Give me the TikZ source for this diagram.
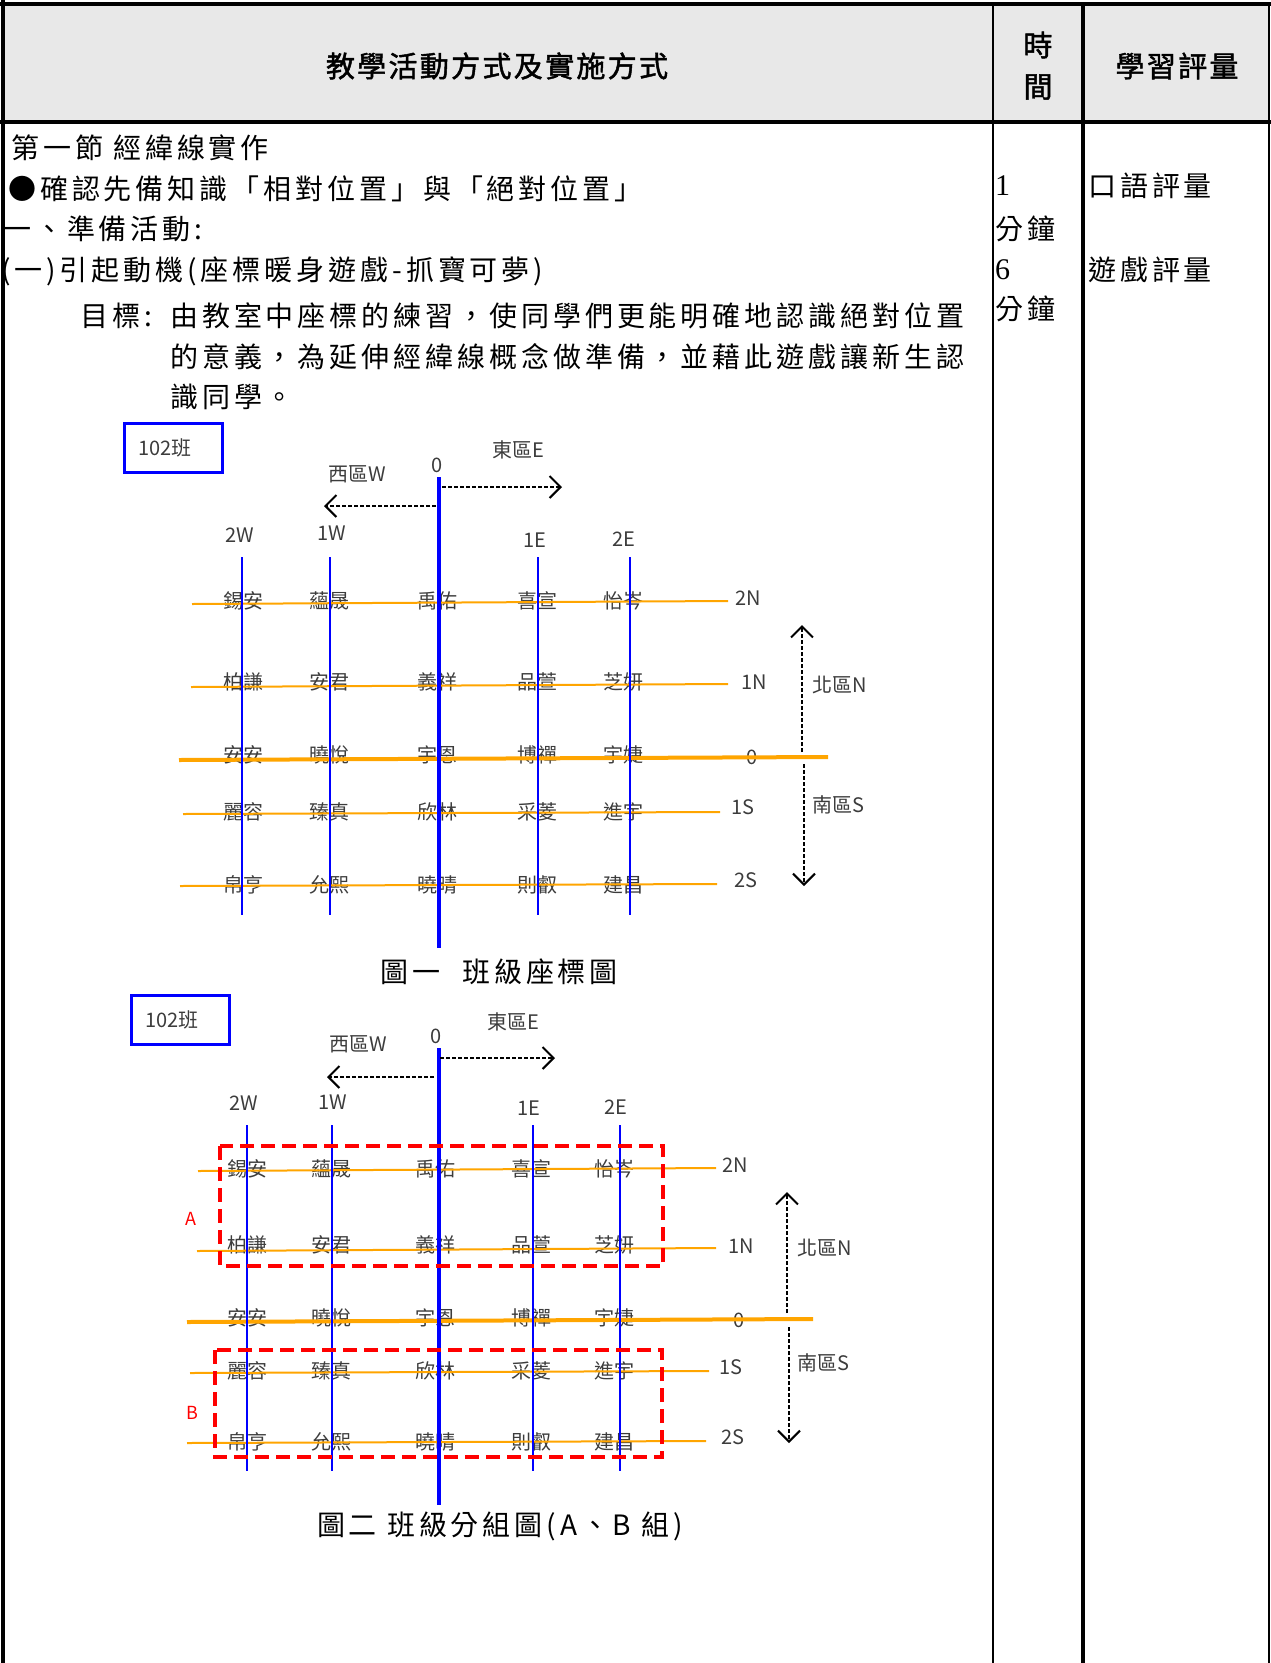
\documentclass[tikz,border=0pt]{standalone}
\usepackage{xcolor}
\usepackage{fontspec}
\setmainfont{Noto Sans CJK TC}
\newfontfamily\cjk[LetterSpace=14]{Noto Sans CJK TC}
\newfontfamily\cjkhead[FakeBold=1.6,LetterSpace=8]{Noto Sans CJK TC}
\newfontfamily\seatfont{Noto Sans CJK TC}
\newfontfamily\numfont{Liberation Serif}
\usepackage{tikz}
\usetikzlibrary{arrows.meta,positioning}
\definecolor{seatblue}{RGB}{0,0,255}
\definecolor{seatorange}{RGB}{255,165,0}
\definecolor{grouped}{RGB}{255,0,0}
\definecolor{headgray}{RGB}{232,232,232}
\definecolor{seattext}{RGB}{60,60,60}
\tikzset{
  every picture/.style = {
    x = 1pt,
    y = -1pt,
  }
  ,
  body-text/.style = {
    anchor = west,
    inner sep = 0pt,
    font = \cjk\fontsize{28}{34}\selectfont
  }
  ,
  head-text/.style = {
    inner sep = 0pt,
    font = \cjkhead\fontsize{29}{34}\selectfont
  }
  ,
  num-text/.style = {
    anchor = west,
    inner sep = 0pt,
    font = \numfont\fontsize{30}{34}\selectfont
  }
  , % seats and labels of the grid
  seat/.style = {
    inner sep = 0pt,
    text = seattext,
    font = \seatfont\fontsize{20}{24}\selectfont
  }
  ,
  group-label/.style = {
    inner sep = 0pt,
    text = grouped,
    font = \seatfont\fontsize{18}{22}\selectfont
  }
  ,
  class-box/.style = {
    draw = seatblue,
    line width = 3pt,
    inner xsep = 14pt,
    text width = 70pt,
    align = left,
    minimum height = 49pt,
    text = seattext,
    font = \seatfont\fontsize{20}{24}\selectfont
  }
  , % lines of the grid
  col-line/.style = {draw = seatblue, line width = 2.2pt}
  ,
  main-line/.style = {draw = seatblue, line width = 4.5pt}
  ,
  row-line/.style = {draw = seatorange, line width = 2pt}
  ,
  zero-line/.style = {draw = seatorange, line width = 4pt}
  ,
  zone-arrow/.style = {
    -{Straight Barb[length=11pt, width=22pt, line width=2pt]},
    draw = black,
    line width = 1.5pt,
    dash pattern = on 4pt off 2pt
  }
  ,
  group-box/.style = {
    draw = grouped,
    line width = 4pt,
    dash pattern = on 14pt off 7pt
  }
  , % table rules
  rule-thin/.style = {draw = black, line width = 2.5pt}
  ,
  rule-thick/.style = {draw = black, line width = 4.5pt}
}

\begin{document}
\begin{tikzpicture}
  \useasboundingbox (0,0) rectangle (1271,1663);

  % table
  \fill[headgray] (4,6) rectangle (1268,121);
  \coordinate (tl) at (0,4);     \coordinate (tr) at (1271,4);
  \coordinate (hl) at (0,122);   \coordinate (hr) at (1271,122);
  \coordinate (lt) at (3,0);     \coordinate (lb) at (3,1663);
  \coordinate (d1t) at (993,4);  \coordinate (d1b) at (993,1663);
  \coordinate (d2t) at (1083,4); \coordinate (d2b) at (1083,1663);
  \coordinate (rt) at (1269,4);  \coordinate (rb) at (1269,1663);
  \draw[rule-thick] (tl) -- (tr);
  \draw[rule-thick] (hl) -- (hr);
  \draw[rule-thick] (lt) -- (lb);
  \draw[rule-thin] (d1t) -- (d1b);
  \draw[rule-thick] (d2t) -- (d2b);
  \draw[rule-thin] (rt) -- (rb);

  \node[head-text] at (497,66) (h-act) {教學活動方式及實施方式};
  \node[head-text] at (1038,45) (h-t1) {時};
  \node[head-text] at (1038,87) (h-t2) {間};
  \node[head-text] at (1177,66) (h-eval) {學習評量};

  \node[body-text] at (11,148) (l1) {第一節 經緯線實作};
  \node[body-text] at (8,189) (l2) {●確認先備知識「相對位置」與「絕對位置」};
  \node[body-text] at (3,229) (l3) {一、準備活動:};
  \node[body-text] at (1,271) (l4) {(一)引起動機(座標暖身遊戲-抓寶可夢)};
  \node[body-text] at (80,316) (goal) {目標:};
  \node[body-text] at (170,316) (g1) {由教室中座標的練習，使同學們更能明確地認識絕對位置};
  \node[body-text] at (170,357) (g2) {的意義，為延伸經緯線概念做準備，並藉此遊戲讓新生認};
  \node[body-text] at (170,397) (g3) {識同學。};

  \node[num-text] at (995,186) (t1) {1};
  \node[body-text] at (995,229) (t1m) {分鐘};
  \node[num-text] at (995,270) (t2) {6};
  \node[body-text] at (995,309) (t2m) {分鐘};
  \node[body-text] at (1088,186) (e1) {口語評量};
  \node[body-text] at (1088,270) (e2) {遊戲評量};

  % figure 1
  \node[class-box] at (173,448) (cls-a) {102班};
  \node[seat] at (437,465) (a-o) {0};
  \node[seat] at (518,450) (a-east) {東區E};
  \node[seat] at (357,474) (a-west) {西區W};
  \node[seat] at (840,685) (a-north) {北區N};
  \node[seat] at (838,805) (a-south) {南區S};
  \foreach \lbl/\xx/\yy in {2W/240/535, 1W/332/533, 1E/535/540, 2E/624/539,
      2N/748/598, 1N/754/682, 0/752/757, 1S/743/807, 2S/746/880}
    \node[seat] at (\xx,\yy) (a-\lbl) {\lbl};
  \foreach \yy/\r [count=\k] in {601/{錫安,蘊晟,禹佑,喜宣,怡岑}, 682/{柏謙,安君,義祥,品萱,芝妍},
      755/{安安,曉悅,宇恩,博禪,宇婕}, 812/{麗容,臻真,欣林,采菱,進宇}, 885/{帛亨,允熙,曉晴,則叡,建昌}}
    \foreach \nm [count=\i] in \r {
      \pgfmathsetmacro{\cx}{{243,329,437,537,623}[\i-1]}
      \node[seat] at (\cx,\yy) (a\k\i) {\nm};
    }
  \foreach \xa/\ya/\xb/\yb [count=\k] in {192/604/728/601, 191/687/728/684, 183/814/720/812, 180/886/717/884} {
    \coordinate (ar\k-w) at (\xa,\ya); \coordinate (ar\k-e) at (\xb,\yb);
    \draw[row-line] (ar\k-w) -- (ar\k-e);
  }
  \coordinate (az-w) at (179,760); \coordinate (az-e) at (828,757);
  \draw[zero-line] (az-w) -- (az-e);
  \foreach \xx [count=\k] in {242,330,538,630} {
    \coordinate (ac\k-n) at (\xx,557); \coordinate (ac\k-s) at (\xx,915);
    \draw[col-line] (ac\k-n) -- (ac\k-s);
  }
  \coordinate (am-n) at (439,477); \coordinate (am-s) at (439,948);
  \draw[main-line] (am-n) -- (am-s);
  \coordinate (ae-0) at (442,487); \coordinate (ae-1) at (562,487);
  \coordinate (aw-0) at (436,506); \coordinate (aw-1) at (324,506);
  \coordinate (an-0) at (802,752); \coordinate (an-1) at (802,625);
  \coordinate (as-0) at (804,764); \coordinate (as-1) at (804,886);
  \draw[zone-arrow] (ae-0) -- (ae-1);
  \draw[zone-arrow] (aw-0) -- (aw-1);
  \draw[zone-arrow] (an-0) -- (an-1);
  \draw[zone-arrow] (as-0) -- (as-1);
  \node[body-text, anchor=center] at (499,972) (cap-a) {圖一\hspace{12pt} 班級座標圖};

  % figure 2
  \node[class-box] at (180,1020) (cls-b) {102班};
  \node[seat] at (436,1036) (b-o) {0};
  \node[seat] at (513,1022) (b-east) {東區E};
  \node[seat] at (358,1044) (b-west) {西區W};
  \node[seat] at (825,1248) (b-north) {北區N};
  \node[seat] at (823,1363) (b-south) {南區S};
  \foreach \lbl/\xx/\yy in {2W/244/1103, 1W/333/1102, 1E/529/1108, 2E/616/1107,
      2N/735/1165, 1N/741/1246, 0/739/1320, 1S/731/1367, 2S/733/1437}
    \node[seat] at (\xx,\yy) (b-\lbl) {\lbl};
  \foreach \yy/\r [count=\k] in {1169/{錫安,蘊晟,禹佑,喜宣,怡岑}, 1245/{柏謙,安君,義祥,品萱,芝妍},
      1318/{安安,曉悅,宇恩,博禪,宇婕}, 1371/{麗容,臻真,欣林,采菱,進宇}, 1442/{帛亨,允熙,曉晴,則叡,建昌}}
    \foreach \nm [count=\i] in \r {
      \pgfmathsetmacro{\cx}{{247,331,435,531,614}[\i-1]}
      \node[seat] at (\cx,\yy) (b\k\i) {\nm};
    }
  \foreach \xa/\ya/\xb/\yb [count=\k] in {198/1171/716/1168, 197/1251/716/1248, 190/1373/709/1371, 187/1443/706/1441} {
    \coordinate (br\k-w) at (\xa,\ya); \coordinate (br\k-e) at (\xb,\yb);
    \draw[row-line] (br\k-w) -- (br\k-e);
  }
  \coordinate (bz-w) at (187,1322); \coordinate (bz-e) at (813,1319);
  \draw[zero-line] (bz-w) -- (bz-e);
  \foreach \xx [count=\k] in {247,332,533,620} {
    \coordinate (bc\k-n) at (\xx,1125); \coordinate (bc\k-s) at (\xx,1471);
    \draw[col-line] (bc\k-n) -- (bc\k-s);
  }
  \coordinate (bm-n) at (439,1048); \coordinate (bm-s) at (439,1505);
  \draw[main-line] (bm-n) -- (bm-s);
  \coordinate (be-0) at (440,1058); \coordinate (be-1) at (555,1058);
  \coordinate (bw-0) at (434,1077); \coordinate (bw-1) at (327,1077);
  \coordinate (bn-0) at (787,1313); \coordinate (bn-1) at (787,1192);
  \coordinate (bs-0) at (789,1327); \coordinate (bs-1) at (789,1443);
  \draw[zone-arrow] (be-0) -- (be-1);
  \draw[zone-arrow] (bw-0) -- (bw-1);
  \draw[zone-arrow] (bn-0) -- (bn-1);
  \draw[zone-arrow] (bs-0) -- (bs-1);
  \coordinate (ga-nw) at (220,1146); \coordinate (ga-se) at (663,1266);
  \coordinate (gb-nw) at (215,1350); \coordinate (gb-se) at (662,1457);
  \draw[group-box] (ga-nw) rectangle (ga-se);
  \draw[group-box] (gb-nw) rectangle (gb-se);
  \node[group-label] at (191,1219) (grp-a) {A};
  \node[group-label] at (192,1413) (grp-b) {B};
  \node[body-text, anchor=center] at (500,1526) (cap-b) {圖二 班級分組圖(A、B 組)};
\end{tikzpicture}
\end{document}
